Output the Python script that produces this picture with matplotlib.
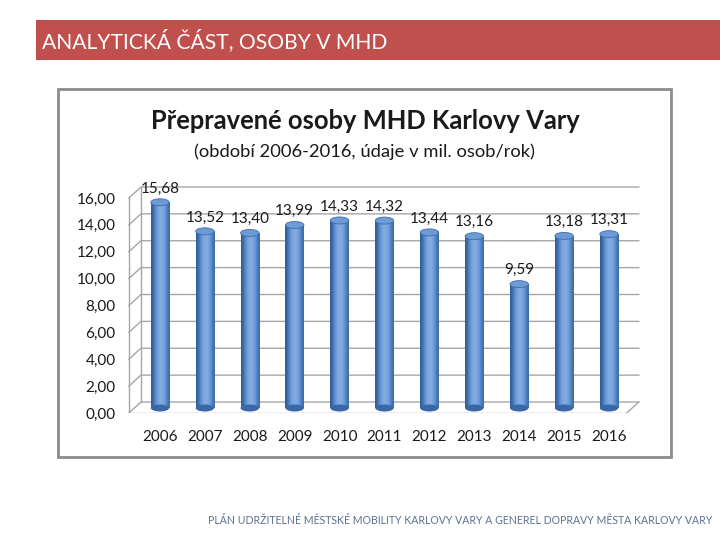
import numpy as np
import matplotlib
matplotlib.use('Agg')
import matplotlib.pyplot as plt
from matplotlib.patches import Rectangle, Ellipse
from matplotlib.colors import LinearSegmentedColormap

plt.rcParams['font.family'] = ['Lato', 'DejaVu Sans']

# data
years = ['2006', '2007', '2008', '2009', '2010', '2011', '2012', '2013', '2014', '2015', '2016']
values = [15.68, 13.52, 13.40, 13.99, 14.33, 14.32, 13.44, 13.16, 9.59, 13.18, 13.31]
yticks = [0, 2, 4, 6, 8, 10, 12, 14, 16]

title = 'Přepravené osoby MHD Karlovy Vary'
subtitle = '(období 2006-2016, údaje v mil. osob/rok)'
header = 'ANALYTICKÁ ČÁST, OSOBY V MHD'
footer = 'PLÁN UDRŽITELNÉ MĚSTSKÉ MOBILITY KARLOVY VARY A GENEREL DOPRAVY MĚSTA KARLOVY VARY'

W, H = 720, 540
fig = plt.figure(figsize=(7.2, 5.4), dpi=100)

# slide decorations in pixel coords
bg = fig.add_axes([0, 0, 1, 1])
bg.set_xlim(0, W)
bg.set_ylim(H, 0)
bg.axis('off')
bg.add_patch(Rectangle((36, 20), W - 36, 40, color='#C0504D', lw=0))
bg.text(42, 41, header, color='white', fontsize=15.2, va='center', ha='left')
bg.add_patch(Rectangle((58, 89), 613, 368, fill=False, ec='#8C8C8C', lw=2))
bg.text(365, 121, title, fontsize=18.4, fontweight='bold', ha='center', va='center', color='#1a1a1a')
bg.text(365, 152, subtitle, fontsize=13.2, ha='center', va='center', color='#1a1a1a')
bg.text(712, 521, footer, fontsize=7.6, ha='right', va='center', color='#5B7293')

# plot area: front wall value 0 at y=413px, 16 at y=198px
px_per_val = (413 - 198) / 16.0
px_per_idx = (609 - 160) / 10.0
left_px, right_px, bot_px, top_px = 128, 650, 413, 170
ax = fig.add_axes([left_px / W, (H - bot_px) / H, (right_px - left_px) / W, (bot_px - top_px) / H])
x0 = (left_px - 160) / px_per_idx
x1 = (right_px - 160) / px_per_idx
ytop = (bot_px - top_px) / px_per_val
for s in ax.spines.values():
    s.set_visible(False)
ax.patch.set_alpha(0)

x = np.arange(len(years))
ddx = 12 / px_per_idx   # depth offset
ddy = 11 / px_per_val
xl = x0 + 0.02
xr = x1 - 0.25
gc = '#A6A6A6'
# grid on back wall + left wall
for v in yticks:
    ax.plot([xl, xl + ddx, xr], [v, v + ddy, v + ddy], color=gc, lw=1, zorder=1)
ax.plot([xl, xl], [0, yticks[-1]], color=gc, lw=1, zorder=1)
ax.plot([xl + ddx, xl + ddx], [ddy, yticks[-1] + ddy], color=gc, lw=1, zorder=1)
# floor front edge
ax.plot([xl, xr - ddx], [0, 0], color=gc, lw=1, zorder=1)
ax.plot([xr - ddx, xr], [0, ddy], color=gc, lw=1, zorder=1)

ax.set_yticks(yticks)
ax.set_yticklabels([('%.2f' % v).replace('.', ',') for v in yticks])
ax.set_xticks(x)
ax.set_xticklabels(years)
ax.tick_params(axis='both', length=0, labelsize=11, colors='#1a1a1a')
ax.tick_params(axis='y', pad=9)
ax.tick_params(axis='x', pad=12)

# cylinders
bw = 0.41
base = 5 / px_per_val
cap_h = 7 / px_per_val
grad = np.array([[0.0, 0.25, 0.5, 0.62, 0.55, 0.35, 0.1]])
cmap = LinearSegmentedColormap.from_list('cyl', ['#2F5C9A', '#5E8FD0', '#86AEE3'])
for xi, v in zip(x, values):
    r = Rectangle((xi - bw / 2, base), bw, v - base, lw=0, fc='none')
    ax.add_patch(r)
    im = ax.imshow(grad, cmap=cmap, vmin=0, vmax=0.62, aspect='auto',
                   extent=(xi - bw / 2, xi + bw / 2, base, v), zorder=2, interpolation='bicubic')
    im.set_clip_path(r)
    ax.add_patch(Ellipse((xi, base), bw, cap_h, fc='#3A67A6', lw=0, zorder=2))
    ax.add_patch(Ellipse((xi, v), bw, cap_h, fc='#6E9AD6', ec='#3F6EAD', lw=0.6, zorder=3))
    ax.annotate(('%.2f' % v).replace('.', ','), (xi, v), xytext=(0, 10), textcoords='offset points',
                ha='center', va='center', fontsize=11, color='#1a1a1a', zorder=4)

ax.set_xlim(x0, x1)
ax.set_ylim(0, ytop)

fig.savefig('out.png', dpi=100)
